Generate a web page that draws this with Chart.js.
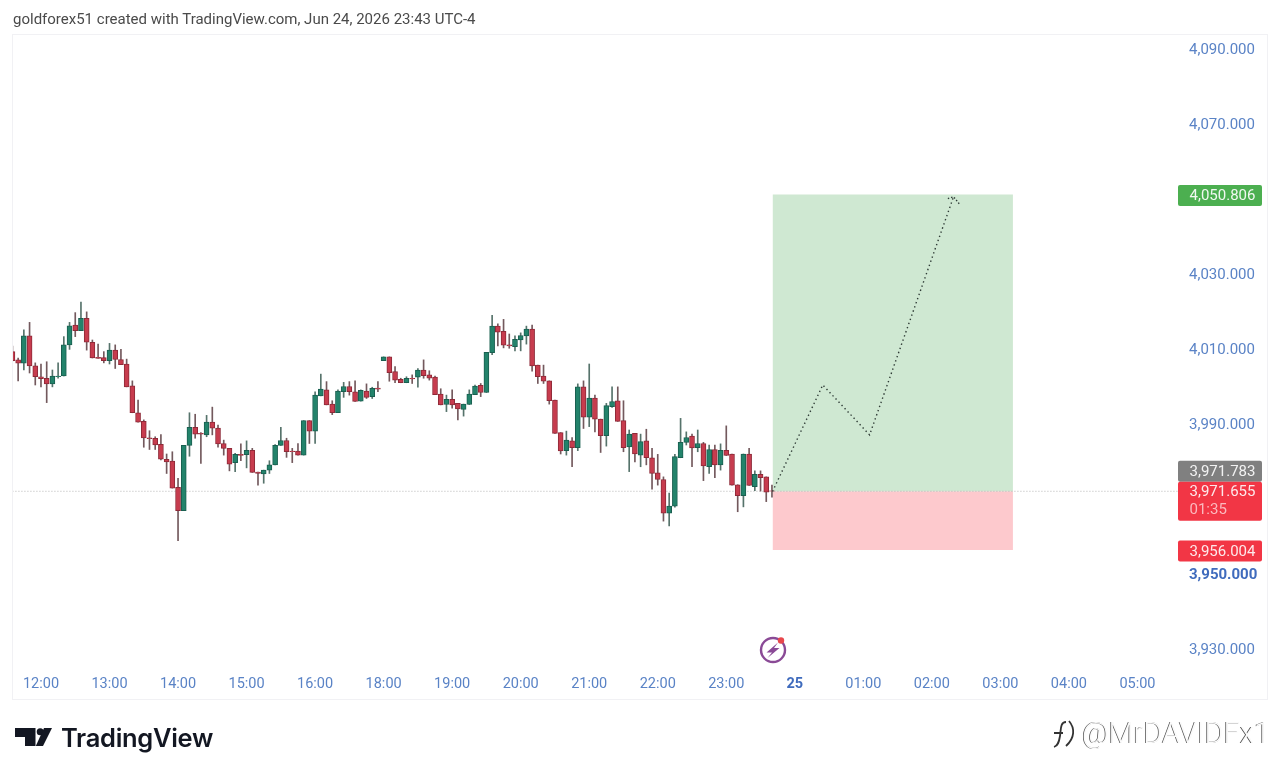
<!DOCTYPE html>
<html>
<head>
<meta charset="utf-8">
<title>XAUUSD 5m</title>
<script src="https://cdn.jsdelivr.net/npm/chart.js@4"></script>
<style>
  html, body { margin: 0; background: #fff; }
  #wrap { position: relative; width: 1280px; height: 775px; overflow: hidden; }
  canvas { display: block; }
  .txt { position: absolute; white-space: nowrap; }
  #header { left: 13px; top: 10px; font: 15px Roboto, sans-serif; color: #4a4a4a; }
  #brand { left: 61px; top: 722px; font: 600 25.5px Inter, sans-serif; color: #131722; letter-spacing: -0.3px; }
  #handle { left: 1082px; top: 716px; font: 300 29px Roboto, sans-serif; color: #fbfbfb; text-shadow: -0.8px 0 #4a4a4a; }
  svg { position: absolute; left: 0; top: 0; }
</style>
</head>
<body>
<div id="wrap">
  <canvas id="myChart" width="1280" height="775"></canvas>
  <div class="txt" id="header">goldforex51 created with TradingView.com, Jun 24, 2026 23:43 UTC-4</div>
  <div class="txt" id="brand">TradingView</div>
  <div class="txt" id="handle">@MrDAVIDFx1</div>
  <svg width="1280" height="775">
    <!-- logo mark -->
    <path d="M15 728H35.5V746H25V737H15Z" fill="#131722"/>
    <circle cx="40.2" cy="731.8" r="3.5" fill="#131722"/>
    <path d="M44 728H52L43 746H35.8Z" fill="#131722"/>
    <!-- alert badge on the time axis -->
    <circle cx="773" cy="650" r="12" fill="none" stroke="#8a4a96" stroke-width="2.4"/>
    <path d="M778 642.5L766.5 652.5H772L767.5 658L779.5 648H774Z" fill="#8a4a96"/>
    <circle cx="781" cy="640.5" r="3.2" fill="#e8474c"/>
    <!-- square icon next to the handle -->
    <path d="M1066 722C1060 722 1061 730 1060 736C1059 742 1058 746 1054 747M1054 733H1063" fill="none" stroke="#333" stroke-width="1.8"/>
    <path d="M1069 721C1075 728 1075 738 1066 746" fill="none" stroke="#333" stroke-width="1.8"/>
  </svg>
</div>

<script>
// ------------------------------------------------------------
// Candle data, 5 minute bars. Bar 0 is the 12:00 candle
// ------------------------------------------------------------
const firstBar = -5

const opens = [
    4008.9, 4006.7, 4005.8, 4013.1, 4005.1,
    4002.2, 4001.8, 4000.3, 4002.2, 4002.4, 4010.7, 4016.0, 4014.5, 4017.8, 4011.4, 4007.4, 4007.3,
    4006.5, 4009.3, 4006.8, 4005.6, 3999.8, 3992.6, 3990.3, 3985.9, 3985.8, 3984.2, 3980.2, 3979.7,
    3972.7, 3966.5, 3983.9, 3988.7, 3987.1, 3986.7, 3990.1, 3988.5, 3984.4, 3983.1, 3979.3, 3981.5,
    3981.4, 3982.6, 3976.8, 3976.3, 3977.3, 3978.7, 3983.9, 3985.2, 3982.4, 3982.4, 3981.3, 3990.5,
    3987.7, 3997.1, 3998.7, 3994.9, 3992.6, 3998.2, 3999.6, 3998.2, 3995.7, 3998.4, 3996.9, 3999.2,
    4006.5, 4007.5, 4003.6, 4001.5, 4000.6, 4001.8, 4002.1, 4004.0, 4002.7, 4002.1, 3997.6, 3994.8,
    3996.2, 3995.1, 3993.5, 3994.8, 3997.4, 3999.9, 3998.0, 4008.6, 4015.7, 4014.3, 4010.7, 4010.2,
    4012.0, 4013.1, 4014.9, 4005.3, 4002.4, 4001.1, 3996.0, 3987.3, 3982.5, 3985.1, 3983.3, 3999.5,
    3991.4, 3996.5, 3990.9, 3986.5, 3994.2, 3995.8, 3990.5, 3983.5, 3987.1, 3981.3, 3985.1, 3980.6,
    3976.6, 3974.8, 3965.8, 3967.7, 3980.6, 3984.7, 3986.4, 3983.3, 3984.4, 3978.2, 3982.8, 3978.7,
    3982.6, 3981.6, 3973.4, 3970.5, 3981.6, 3972.9, 3976.2, 3975.5, 3971.8
]
const highs = [
    4010.4, 4007.2, 4014.7, 4016.7, 4005.9,
    4005.6, 4006.2, 4004.0, 4005.9, 4012.9, 4016.7, 4019.3, 4022.1, 4019.5, 4012.0, 4010.9, 4008.9,
    4011.1, 4010.7, 4009.5, 4006.9, 4001.1, 3996.0, 3990.7, 3987.8, 3986.2, 3986.8, 3981.6, 3982.2,
    3975.1, 3983.9, 3992.6, 3992.2, 3987.3, 3991.9, 3994.1, 3989.3, 3985.3, 3983.1, 3981.8, 3984.3,
    3985.1, 3983.1, 3976.8, 3977.3, 3979.8, 3984.1, 3988.7, 3985.8, 3983.1, 3984.4, 3990.5, 3990.5,
    3998.2, 4002.9, 4000.9, 3995.8, 3998.7, 4000.7, 4000.9, 4001.1, 3998.7, 4000.3, 3999.4, 4000.9,
    4007.5, 4007.5, 4004.9, 4001.8, 4002.2, 4002.7, 4004.4, 4006.7, 4003.8, 4002.4, 3999.0, 3997.3,
    3998.7, 3995.1, 3994.9, 3998.7, 4000.0, 4000.4, 4008.7, 4018.6, 4016.3, 4017.5, 4013.6, 4013.1,
    4013.9, 4015.7, 4016.0, 4005.3, 4005.3, 4001.1, 3996.0, 3987.3, 3987.7, 3986.0, 4000.3, 4001.1,
    4005.6, 3997.3, 3990.9, 3995.1, 3999.5, 3999.5, 3995.8, 3988.0, 3987.1, 3986.9, 3988.2, 3983.1,
    3981.5, 3975.5, 3971.2, 3981.5, 3991.1, 3987.5, 3986.9, 3988.0, 3984.7, 3984.0, 3984.0, 3984.3,
    3989.1, 3981.6, 3973.4, 3981.6, 3983.1, 3977.1, 3977.1, 3975.5, 3973.3
]
const lows = [
    4006.4, 4001.1, 4004.0, 4003.2, 4000.0,
    3999.5, 3995.3, 3999.5, 4001.8, 4002.4, 4009.5, 4012.9, 4014.5, 4009.3, 4007.2, 4007.1, 4005.9,
    4005.6, 4004.4, 4005.4, 3999.5, 3992.6, 3990.1, 3983.4, 3982.8, 3982.8, 3980.0, 3976.4, 3972.5,
    3958.5, 3966.5, 3981.0, 3985.8, 3979.1, 3986.2, 3986.7, 3983.4, 3981.3, 3977.1, 3976.9, 3979.8,
    3977.9, 3976.7, 3973.3, 3973.8, 3976.4, 3978.7, 3983.9, 3980.7, 3979.3, 3981.3, 3981.3, 3984.4,
    3984.4, 3997.1, 3994.7, 3992.1, 3992.6, 3996.7, 3997.3, 3995.6, 3995.7, 3996.4, 3996.4, 3998.2,
    4006.5, 4001.0, 4000.6, 4000.6, 4000.6, 4000.4, 3999.4, 4001.8, 4001.3, 3997.4, 3994.7, 3992.9,
    3993.8, 3990.7, 3991.7, 3994.8, 3997.4, 3996.9, 3998.0, 4008.1, 4010.4, 4009.9, 4009.8, 4009.1,
    4009.1, 4010.9, 4003.7, 4000.4, 4000.4, 3994.9, 3987.1, 3981.6, 3981.3, 3978.2, 3982.5, 3988.4,
    3988.9, 3987.5, 3982.0, 3983.7, 3994.0, 3990.3, 3982.2, 3976.9, 3979.5, 3978.2, 3978.7, 3972.2,
    3973.3, 3963.7, 3962.4, 3967.4, 3980.6, 3984.0, 3978.2, 3982.2, 3974.5, 3976.4, 3975.3, 3977.3,
    3981.2, 3973.3, 3966.2, 3967.5, 3973.2, 3971.8, 3971.7, 3968.9, 3970.1
]
const closes = [
    4006.5, 4005.8, 4013.1, 4005.1, 4002.2,
    4001.7, 4000.3, 4002.4, 4002.4, 4010.7, 4015.8, 4014.5, 4017.8, 4011.4, 4007.2, 4007.1, 4006.5,
    4009.3, 4006.8, 4005.4, 3999.5, 3992.6, 3990.1, 3985.9, 3985.7, 3984.0, 3980.2, 3979.5, 3972.5,
    3966.5, 3983.9, 3988.7, 3986.9, 3986.9, 3990.1, 3988.5, 3984.3, 3983.1, 3978.9, 3981.5, 3981.2,
    3982.6, 3976.7, 3976.4, 3977.3, 3978.7, 3983.9, 3985.2, 3982.2, 3982.2, 3981.3, 3990.5, 3987.7,
    3997.3, 3998.9, 3994.7, 3992.6, 3998.4, 3999.6, 3998.2, 3995.6, 3998.6, 3996.7, 3999.1, 3998.9,
    4007.5, 4003.3, 4001.3, 4000.6, 4001.8, 4001.6, 4004.0, 4002.5, 4001.8, 3997.4, 3994.7, 3996.2,
    3994.7, 3993.6, 3994.9, 3997.6, 3999.7, 3998.0, 4008.7, 4015.7, 4014.1, 4010.6, 4010.4, 4012.2,
    4013.2, 4014.9, 4005.1, 4002.2, 4001.0, 3995.8, 3987.1, 3982.4, 3985.3, 3983.3, 3999.5, 3991.4,
    3996.5, 3990.9, 3986.5, 3994.5, 3995.6, 3990.3, 3983.3, 3986.9, 3981.6, 3984.9, 3980.6, 3976.4,
    3974.8, 3965.8, 3967.7, 3980.9, 3984.7, 3986.0, 3983.2, 3984.4, 3978.4, 3982.8, 3978.7, 3982.6,
    3981.2, 3973.3, 3970.5, 3981.6, 3973.2, 3976.2, 3975.3, 3971.4, 3971.655
]

// Axis ticks
const priceTicks = [3930, 3950, 3970, 3990, 4010, 4030, 4050, 4070, 4090]
const hiddenPriceTicks = [3970, 4050] // covered by the price tags
const timeTickBars = [0, 12, 24, 36, 48, 60, 72, 84, 96, 108, 120, 132, 144, 156, 168, 180, 192]
const timeTickLabels = ['12:00', '13:00', '14:00', '15:00', '16:00', '18:00', '19:00', '20:00', '21:00', '22:00', '23:00', '25', '01:00', '02:00', '03:00', '04:00', '05:00']

// Long position tool
const targetPrice = 4050.806
const entryPrice = 3971.655
const stopPrice = 3956.004
const bidPrice = 3971.783
const countdown = '01:35'
const boxBars = [128.1, 170.2]

// Projected path, drawn dotted
const pathBars = [128.1, 136.9, 145.1, 159.8]
const pathPrices = [3971.6, 4000.0, 3986.7, 4050.2]
const arrowBars = [158.8, 159.8, 160.8]
const arrowPrices = [4049.7, 4050.2, 4048.3]

// ------------------------------------------------------------
// Chart config
// ------------------------------------------------------------
const RED = '#c73c4e'
const GREEN = '#23836b'
const LABEL_BLUE = '#5a83c6'
const BOLD_BLUE = '#3f6bbd'

const barIndex = opens.map((_, i) => firstBar + i)
const isUp = opens.map((o, i) => closes[i] >= o)
const price = (v) => v.toLocaleString('en-US', { minimumFractionDigits: 3 })

const toXY = (xs, ys) => xs.map((x, i) => ({ x: x, y: ys[i] }))
const lineSet = (extra) => Object.assign({
    type: 'line',
    pointRadius: 0,
    borderWidth: 0,
    tension: 0,
    fill: false
}, extra)

const data = {
    datasets: [
        lineSet({
            // profit zone
            data: toXY(boxBars, [targetPrice, targetPrice]),
            fill: { value: entryPrice },
            backgroundColor: '#cfe8d2',
            order: 10
        }),
        lineSet({
            // risk zone
            data: toXY(boxBars, [stopPrice, stopPrice]),
            fill: { value: entryPrice },
            backgroundColor: '#fdc9cd',
            order: 10
        }),
        lineSet({
            // last price line
            data: toXY([firstBar, timeTickBars[timeTickBars.length - 1] + 12], [entryPrice, entryPrice]),
            borderColor: '#b5b5b5',
            borderWidth: 1,
            borderDash: [1, 2],
            order: 9
        }),
        {
            // wicks
            data: barIndex.map((x, i) => ({ x: x, y: [lows[i], highs[i]] })),
            backgroundColor: isUp.map((up) => up ? '#56736b' : '#73595d'),
            barThickness: 1,
            order: 6
        },
        {
            // bodies
            data: barIndex.map((x, i) => ({ x: x, y: [opens[i], closes[i]] })),
            backgroundColor: isUp.map((up) => up ? GREEN : RED),
            borderColor: isUp.map((up) => up ? '#1a5f50' : '#8e2a38'),
            borderWidth: 1,
            borderSkipped: false,
            barThickness: 5,
            order: 5
        },
        lineSet({
            data: toXY(pathBars, pathPrices),
            borderColor: '#2f3b36',
            borderWidth: 1.4,
            borderDash: [1.4, 3],
            order: 1
        }),
        lineSet({
            data: toXY(arrowBars, arrowPrices),
            borderColor: '#2f3b36',
            borderWidth: 1.4,
            borderDash: [1.4, 2],
            order: 1
        })
    ]
}

// Frame around the pane
const framePlugin = {
    id: 'frame',
    beforeDraw(chart) {
        const ctx = chart.ctx
        ctx.save()
        ctx.strokeStyle = '#f1f1f4'
        ctx.lineWidth = 1
        ctx.strokeRect(12.5, 34.5, 1255, 665)
        ctx.restore()
    }
}

// Price tags on the right axis, placed from the price scale
const tagsPlugin = {
    id: 'priceTags',
    afterDraw(chart) {
        const ctx = chart.ctx
        const y = chart.scales.y
        const left = 1178
        const width = 84
        const textX = 1189.5

        const tag = (top, height, colour) => {
            ctx.fillStyle = colour
            ctx.beginPath()
            ctx.roundRect(left, top, width, height, 2)
            ctx.fill()
        }
        const text = (str, cy, colour) => {
            ctx.fillStyle = colour
            ctx.fillText(str, textX, cy)
        }

        ctx.save()
        ctx.font = '15px Roboto, sans-serif'
        ctx.textBaseline = 'middle'
        ctx.textAlign = 'left'

        const targetY = y.getPixelForValue(targetPrice)
        tag(targetY - 9.5, 21, '#4caf50')
        text(price(targetPrice), targetY + 2, '#f1f8f1')

        // the bid tag sits on top of the last price tag
        const lastY = y.getPixelForValue(entryPrice)
        tag(lastY - 30.5, 21, '#808080')
        text(price(bidPrice), lastY - 19, '#f2f2f2')
        tag(lastY - 9.5, 39, '#f23645')
        text(price(entryPrice), lastY + 1, '#fde8ea')
        text(countdown, lastY + 19, '#fbb9be')

        const stopY = y.getPixelForValue(stopPrice)
        tag(stopY - 9.5, 21, '#f23645')
        text(price(stopPrice), stopY + 2, '#fde8ea')
        ctx.restore()
    }
}

const config = {
    type: 'bar',
    data: data,
    plugins: [framePlugin, tagsPlugin],
    options: {
        responsive: false,
        animation: false,
        devicePixelRatio: 1,
        layout: { padding: { left: 13, top: 34, right: 0, bottom: 0 } },
        datasets: { bar: { grouped: false } },
        plugins: {
            legend: { display: false },
            title: { display: false },
            tooltip: { enabled: false }
        },
        scales: {
            x: {
                type: 'linear',
                offset: false,
                min: -4.9,
                max: 199.1,
                grid: { display: false, offset: false },
                border: { display: false },
                afterFit(scale) { scale.height = 107 },
                afterBuildTicks(scale) { scale.ticks = timeTickBars.map((v) => ({ value: v })) },
                ticks: {
                    autoSkip: false,
                    maxRotation: 0,
                    padding: 0,
                    color: (c) => c.tick && c.tick.value === 132 ? BOLD_BLUE : LABEL_BLUE,
                    font: (c) => ({
                        family: 'Roboto, sans-serif',
                        size: 14.5,
                        weight: c.tick && c.tick.value === 132 ? 'bold' : 'normal'
                    }),
                    callback: (v) => timeTickLabels[timeTickBars.indexOf(v)]
                }
            },
            y: {
                position: 'right',
                min: 3924.53,
                max: 4093.6,
                grid: { display: false, drawTicks: false },
                border: { display: false },
                afterFit(scale) { scale.width = 102 },
                afterBuildTicks(scale) { scale.ticks = priceTicks.map((v) => ({ value: v })) },
                ticks: {
                    padding: 11,
                    color: (c) => c.tick && c.tick.value === 3950 ? BOLD_BLUE : LABEL_BLUE,
                    font: (c) => ({
                        family: 'Roboto, sans-serif',
                        size: 15,
                        lineHeight: '5px',
                        weight: c.tick && c.tick.value === 3950 ? 'bold' : 'normal'
                    }),
                    // empty first line with a 5px line height drops the text 2.5px
                    callback: (v) => hiddenPriceTicks.includes(v) ? '' : ['', price(v)]
                }
            }
        }
    }
}

const myChart = new Chart(document.getElementById('myChart'), config)
</script>
</body>
</html>
